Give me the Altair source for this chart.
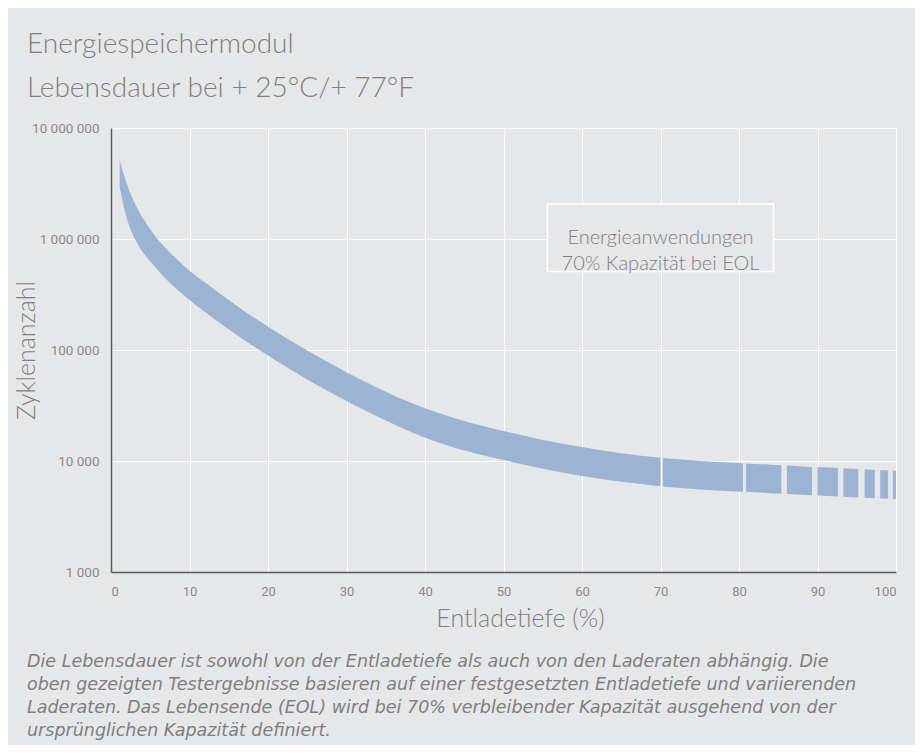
import altair as alt
import pandas as pd

# ---------------- text ----------------
title_lines = ["Energiespeichermodul", "Lebensdauer bei + 25°C/+ 77°F"]
x_title = "Entladetiefe (%)"
y_title = "Zyklenanzahl"
box_lines = ["Energieanwendungen", "70% Kapazität bei EOL"]
note_lines = [
    "Die Lebensdauer ist sowohl von der Entladetiefe als auch von den Laderaten abhängig. Die",
    "oben gezeigten Testergebnisse basieren auf einer festgesetzten Entladetiefe und variierenden",
    "Laderaten. Das Lebensende (EOL) wird bei 70% verbleibender Kapazität  ausgehend von der",
    "ursprünglichen Kapazität definiert.",
]

# ---------------- axes ----------------
x_ticks = [0, 10, 20, 30, 40, 50, 60, 70, 80, 90, 100]
y_ticks = [1000, 10000, 100000, 1000000, 10000000]
y_tick_labels = ["1 000", "10 000", "100 000", "1 000 000", "10 000 000"]

# ---------------- band (segments separated by small gaps) ----------------
band_seg = [0] * 24 + [1] * 3 + [2] * 2 + [3] * 2 + [4] * 2 + [5] * 2 + [6] * 2 + [7] * 2 + [8] * 2
band_x = [1.1, 1.5, 2, 2.6, 3.4, 4.5, 5.6, 7, 8.5, 10, 12, 14.5, 17, 20, 25, 30, 35, 40, 45, 50, 55, 60, 65, 70,
          70.3, 75, 80.5,
          80.9, 85.4,
          86.1, 89.3,
          90.0, 92.6,
          93.3, 95.2,
          96.0, 97.3,
          98.0, 99.0,
          99.6, 100]
band_hi = [5180000, 4070000, 3162000, 2455000, 1862000, 1380000, 1072000, 822200, 645700, 518800,
           402700, 298500, 223900, 162200, 98860, 63100, 42170, 29850, 22910, 18620, 15490, 13340, 11750, 10670,
           10620, 10000, 9528,
           9506, 9141,
           9099, 8851,
           8810, 8630,
           8590, 8453,
           8414, 8318,
           8279, 8222,
           8185, 8166]
band_lo = [2979000, 2138000, 1549000, 1175000, 901600, 691800, 562300, 436500, 346700, 281800,
           218800, 162900, 122500, 89130, 54330, 34670, 23170, 16220, 12450, 10230, 8511, 7328, 6486, 5916,
           5888, 5546, 5284,
           5272, 5070,
           5047, 4909,
           4887, 4786,
           4764, 4699,
           4677, 4624,
           4603, 4571,
           4550, 4539]

# annotation box (data coordinates)
box_x0 = [55.6]
box_x1 = [84.4]
box_top = [2070000]
box_bottom = [510000]
box_text_x = [70]
box_text_y = [1030000]

BG = "#e6e7e9"
BAND = "#9cb3d4"
TEXT = "#7f7f7f"
LABEL = "#8a8a8a"

band_df = pd.DataFrame({"seg": band_seg, "x": band_x, "hi": band_hi, "lo": band_lo})
box_df = pd.DataFrame({"x0": box_x0, "x1": box_x1, "top": box_top, "bottom": box_bottom,
                       "tx": box_text_x, "ty": box_text_y})

label_expr = " : ".join(
    f"round(datum.value) == {v} ? '{s}'" for v, s in zip(y_ticks, y_tick_labels)
) + " : ''"

x_scale = alt.Scale(domain=[0, 100], nice=False, zero=False)
y_scale = alt.Scale(type="log", domain=[1000, 10000000], nice=False)

x_axis = alt.Axis(values=x_ticks, title=x_title, grid=True, gridColor="white", gridWidth=1,
                  ticks=False, domainColor="#5c5c5c", domainWidth=1.5,
                  labelColor=LABEL, labelFont="Roboto", labelFontSize=13, labelPadding=13,
                  titleColor=TEXT, titleFont="Lato", titleFontSize=25, titleFontWeight=300,
                  titleX=409, titleY=54, titleAlign="center", titleBaseline="alphabetic")
y_axis = alt.Axis(values=y_ticks, labelExpr=label_expr, title=y_title, grid=True, gridColor="white",
                  gridWidth=1, ticks=False, domainColor="#5c5c5c", domainWidth=1.5,
                  labelColor=LABEL, labelFont="Roboto", labelFontSize=13.5, labelPadding=12,
                  titleColor=TEXT, titleFont="Lato", titleFontSize=25, titleFontWeight=300,
                  titleAngle=270, titleX=-85, titleY=222, titleAlign="center", titleBaseline="middle")

band = alt.Chart(band_df).mark_area(color=BAND, opacity=1, interpolate="monotone", orient="vertical").encode(
    x=alt.X("x:Q", scale=x_scale, axis=x_axis),
    y=alt.Y("hi:Q", scale=y_scale, axis=y_axis),
    y2="lo:Q",
    detail="seg:N",
)

box = alt.Chart(box_df).mark_rect(fill=BG, stroke="white", strokeWidth=1.5).encode(
    x="x0:Q", x2="x1:Q", y="top:Q", y2="bottom:Q"
)
box_text = alt.Chart(box_df).mark_text(
    text=box_lines, font="Lato", fontWeight=300, fontSize=20, color=TEXT, align="center",
    baseline="middle", lineHeight=26
).encode(x="tx:Q", y="ty:Q")

one = pd.DataFrame({"k": [0]})
title_txt = alt.Chart(one).mark_text(
    text=title_lines, font="Lato", fontWeight=300, fontSize=28, color=TEXT, align="left",
    baseline="alphabetic", lineHeight=44
).encode(x=alt.value(-84), y=alt.value(-75))

note_txt = alt.Chart(one).mark_text(
    text=note_lines, font="DejaVu Sans", fontStyle="italic", fontSize=17.5, color=TEXT,
    align="left", baseline="alphabetic", lineHeight=23
).encode(x=alt.value(-84), y=alt.value(539))

chart = alt.layer(band, box, box_text, title_txt, note_txt).properties(
    width=785, height=444,
    autosize=alt.AutoSizeParams(type="none"),
    padding={"left": 103, "top": 120, "right": 19, "bottom": 173},
    background=BG,
).configure_view(strokeWidth=0)

chart.save("out.html", embed_options={"renderer": "svg", "actions": False})
